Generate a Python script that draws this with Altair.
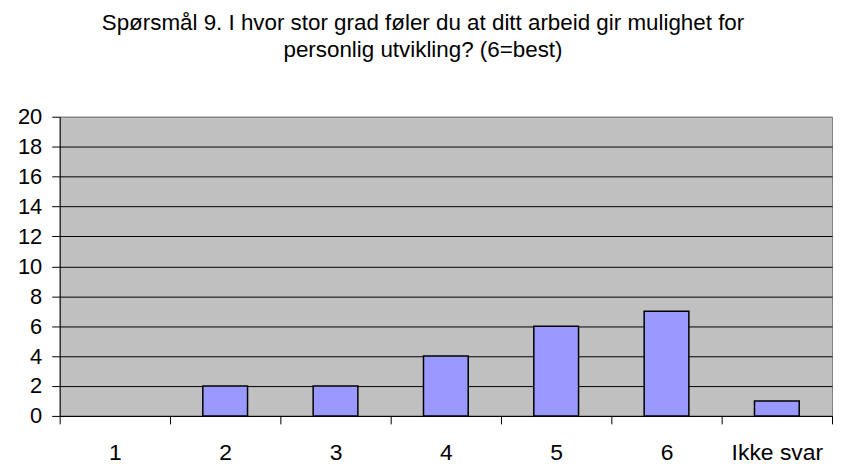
import altair as alt
import pandas as pd

categories = ["1", "2", "3", "4", "5", "6", "Ikke svar"]
counts = [0, 2, 2, 4, 6, 7, 1]
y_ticks = [0, 2, 4, 6, 8, 10, 12, 14, 16, 18, 20]
title_lines = [
    "Spørsmål 9. I hvor stor grad føler du at ditt arbeid gir mulighet for",
    "personlig utvikling? (6=best)",
]

df = pd.DataFrame({"kategori": categories, "antall": counts})

FONT = "Liberation Sans"

chart = (
    alt.Chart(df)
    .mark_bar(size=45, color="#9999FF", stroke="black")
    .encode(
        x=alt.X(
            "kategori:N",
            sort=categories,
            scale=alt.Scale(paddingInner=0, paddingOuter=0),
            axis=alt.Axis(
                title=None,
                labelAngle=0,
                tickBand="extent",
                tickSize=8,
                tickColor="black",
                labelPadding=18,
                labelFontSize=23,
                labelFont=FONT,
                labelColor="black",
                domain=True,
                domainColor="black",
                grid=False,
            ),
        ),
        y=alt.Y(
            "antall:Q",
            scale=alt.Scale(domain=[0, 20], nice=False),
            axis=alt.Axis(
                title=None,
                values=y_ticks,
                tickSize=8,
                tickColor="black",
                labelPadding=10,
                labelFontSize=22,
                labelFont=FONT,
                labelColor="black",
                domainColor="black",
                grid=True,
                gridColor={
                    "condition": {"test": "datum.value >= 20", "value": "#808080"},
                    "value": "black",
                },
                gridWidth=1,
            ),
        ),
        strokeWidth=alt.condition("datum.antall > 0", alt.value(1.5), alt.value(0)),
    )
    .properties(
        width=777,
        height=301,
        title=alt.TitleParams(
            text=title_lines,
            font=FONT,
            fontSize=22.5,
            fontWeight="normal",
            color="black",
            lineHeight=27,
            anchor="middle",
            baseline="alphabetic",
            dx=-23,
            offset=27,
        ),
        padding={"left": 52, "top": 108, "right": 2, "bottom": 47},
        autosize=alt.AutoSizeParams(type="none"),
    )
    .configure_view(fill="#C0C0C0", stroke="#808080", strokeWidth=1)
)

chart.save("out.html", embed_options={"renderer": "svg", "actions": False})
